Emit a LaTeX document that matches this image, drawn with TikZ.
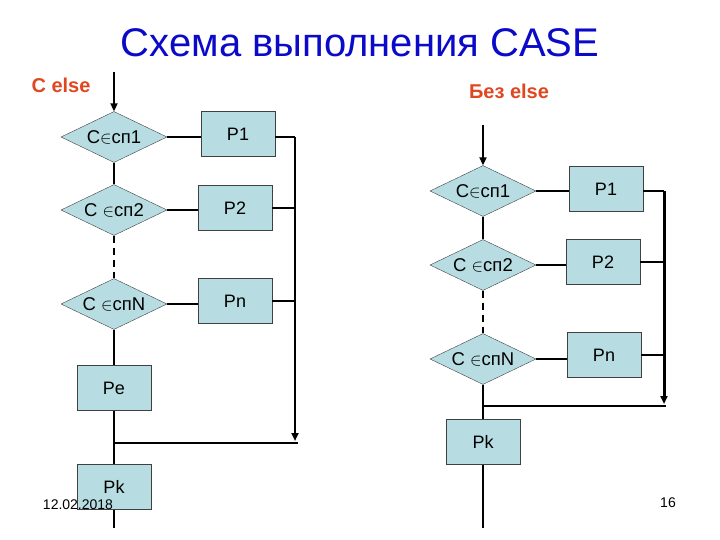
\documentclass[tikz,border=0pt]{standalone}
\usepackage{fontspec}
\setmainfont{Liberation Sans}
\usetikzlibrary{positioning,arrows.meta,calc,shapes.geometric}
\definecolor{boxfill}{RGB}{183,221,226}
\definecolor{titleblue}{RGB}{10,10,200}
\definecolor{labelred}{RGB}{225,70,30}
\tikzset{
  cond/.style={diamond, aspect=2, draw=black!75, fill=boxfill, inner sep=0pt,
    minimum width=106pt, minimum height=51pt, font=\fontsize{18.5}{18.5}\selectfont},
  proc/.style={rectangle, draw=black!75, fill=boxfill, inner sep=0pt,
    minimum width=74pt, minimum height=45pt, font=\fontsize{18}{18}\selectfont},
  flow/.style={line width=2pt},
  tip/.style={-{Triangle[length=8pt,width=7pt]}},
  bus/.style={line width=2pt, tip},
  skip/.style={line width=2pt, dash pattern=on 7pt off 5pt}
}
\begin{document}
\begin{tikzpicture}[x=1pt, y=-1pt]
    \useasboundingbox (0,0) rectangle (720,540);

    \node[titleblue, font=\fontsize{40}{40}\selectfont] (title) at (360,43) {Схема выполнения CASE};
    \node[labelred, font=\bfseries\fontsize{20}{20}\selectfont] (withelse) at (61,85) {C else};
    \node[labelred, font=\bfseries\fontsize{20}{20}\selectfont] (noelse) at (509,91) {Без else};

    % with else
    \coordinate (inL) at (114,72);
    \node[cond] (cL1) at (114,137) {C$\in$сп1};
    \node[cond] (cL2) at (114,210) {C $\in$сп2};
    \node[cond] (cLN) at (114,304) {C $\in$спN};
    \node[proc] (pL1) at (238,134) {P1};
    \node[proc] (pL2) at (235,208) {P2};
    \node[proc] (pLn) at (235,301) {Pn};
    \node[proc] (peL) at (114,388) {Pe};
    \node[proc] (pkL) at (114,487) {Pk};
    \coordinate (busL) at (295,137);
    \coordinate (mL) at (114,443);
    \coordinate (joinL) at (298,443);
    \coordinate (outL) at (114,528);

    \draw[flow,tip] (inL) -- (cL1.north);
    \draw[flow] (cL1.east) -- (cL1.east -| pL1.west);
    \draw[flow] (cL2.east) -- (cL2.east -| pL2.west);
    \draw[flow] (cLN.east) -- (cLN.east -| pLn.west);
    \draw[flow] (cL1.south) -- (cL2.north);
    \draw[skip] (cL2.south) -- (cLN.north);
    \draw[flow] (cLN.south) -- (peL.north);
    \draw[flow] (peL.south) -- (pkL.north);
    \draw[flow] (pkL.south) -- (outL);
    \draw[flow] (pL1.east |- busL) -- (busL);
    \draw[flow] (pL2.east) -- (pL2.east -| busL);
    \draw[flow] (pLn.east) -- (pLn.east -| busL);
    \draw[bus] (busL) -- ($(busL |- joinL)+(0,-2)$);
    \draw[flow] (mL) -- (joinL);

    % without else
    \coordinate (inR) at (483,125);
    \node[cond] (cR1) at (483,191) {C$\in$сп1};
    \node[cond] (cR2) at (483,265) {C $\in$сп2};
    \node[cond] (cRN) at (483,359) {C $\in$спN};
    \node[proc] (pR1) at (606,189) {P1};
    \node[proc] (pR2) at (603,262) {P2};
    \node[proc] (pRn) at (604,355) {Pn};
    \node[proc] (pkR) at (483,442) {Pk};
    \coordinate (busR) at (664,191);
    \coordinate (mR) at (483,406);
    \coordinate (joinR) at (666,406);
    \coordinate (outR) at (483,528);

    \draw[flow,tip] (inR) -- (cR1.north);
    \draw[flow] (cR1.east) -- (cR1.east -| pR1.west);
    \draw[flow] (cR2.east) -- (cR2.east -| pR2.west);
    \draw[flow] (cRN.east) -- (cRN.east -| pRn.west);
    \draw[flow] (cR1.south) -- (cR2.north);
    \draw[skip] (cR2.south) -- (cRN.north);
    \draw[flow] (cRN.south) -- (pkR.north);
    \draw[flow] (pkR.south) -- (outR);
    \draw[flow] (pR1.east |- busR) -- (busR);
    \draw[flow] (pR2.east) -- (pR2.east -| busR);
    \draw[flow] (pRn.east) -- (pRn.east -| busR);
    \draw[bus, line width=3pt, -{Triangle[length=8pt,width=7pt]}] (busR) -- ($(busR |- joinR)+(0,-2)$);
    \draw[flow] (mR) -- (joinR);

    \node[font=\fontsize{14}{14}\selectfont] (date) at (78,505) {12.02.2018};
    \node[font=\fontsize{14}{14}\selectfont] (page) at (668,503) {16};
\end{tikzpicture}
\end{document}
